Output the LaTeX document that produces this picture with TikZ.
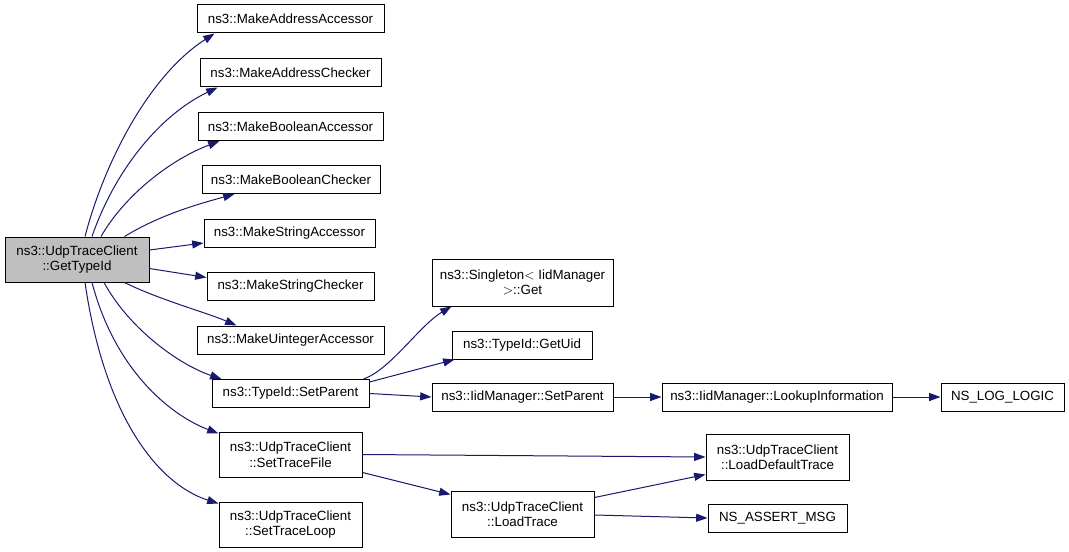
\documentclass[tikz,border=0pt]{standalone}
\usepackage{fontspec}
\setmainfont{Liberation Sans}
\usetikzlibrary{arrows.meta,calc}
\definecolor{edgec}{HTML}{191970}
\definecolor{mgray}{HTML}{BFBFBF}
\begin{document}
\begin{tikzpicture}[x=0.75pt,y=-0.75pt,
 box/.style={draw=black,line width=0.75pt,inner sep=0pt,align=center,font=\fontsize{10}{11.6}\selectfont,fill=white,minimum height=28*0.75pt},
 tall/.style={minimum height=45*0.75pt},
 e/.style={draw=edgec,line width=0.75pt,-{Triangle[length=8.5pt,width=6pt]}},
]
\useasboundingbox[fill=white] (0,0) rectangle (1069,552);
\node[box,tall,fill=mgray,minimum width=144*0.75pt] (main) at (77,259.5) {ns3::UdpTraceClient\\::GetTypeId};
\node[box,minimum width=187*0.75pt] (maa) at (290.5,19) {ns3::MakeAddressAccessor};
\node[box,minimum width=181*0.75pt] (mac) at (290.5,73) {ns3::MakeAddressChecker};
\node[box,minimum width=185*0.75pt] (mba) at (290.5,126.5) {ns3::MakeBooleanAccessor};
\node[box,minimum width=178*0.75pt] (mbc) at (291,179.5) {ns3::MakeBooleanChecker};
\node[box,minimum width=171*0.75pt] (msa) at (289.5,233) {ns3::MakeStringAccessor};
\node[box,minimum width=167*0.75pt] (msc) at (290.5,286.5) {ns3::MakeStringChecker};
\node[box,minimum width=187*0.75pt] (mua) at (290.5,340) {ns3::MakeUintegerAccessor};
\node[box,minimum width=157*0.75pt] (tsp) at (290.5,393.5) {ns3::TypeId::SetParent};
\node[box,tall,minimum width=143*0.75pt] (stf) at (290.5,454.5) {ns3::UdpTraceClient\\::SetTraceFile};
\node[box,tall,minimum width=143*0.75pt] (stl) at (290.5,524.5) {ns3::UdpTraceClient\\::SetTraceLoop};
\node[box,tall,minimum width=181*0.75pt,minimum height=47*0.75pt] (sget) at (522.5,282.5) {ns3::Singleton$<$ IidManager\\$>$::Get};
\node[box,minimum width=140*0.75pt] (guid) at (522,345) {ns3::TypeId::GetUid};
\node[box,minimum width=181*0.75pt] (isp) at (522.5,397) {ns3::IidManager::SetParent};
\node[box,minimum width=230*0.75pt] (lookup) at (777,397) {ns3::IidManager::LookupInformation};
\node[box,minimum width=123*0.75pt] (nslog) at (1002.5,397) {NS\_LOG\_LOGIC};
\node[box,tall,minimum width=143*0.75pt,minimum height=46*0.75pt] (ldt) at (777.5,457) {ns3::UdpTraceClient\\::LoadDefaultTrace};
\node[box,tall,minimum width=143*0.75pt,minimum height=46*0.75pt] (lt) at (522.5,514) {ns3::UdpTraceClient\\::LoadTrace};
\node[box,minimum width=139*0.75pt] (nsa) at (777.5,518) {NS\_ASSERT\_MSG};

\draw[e] ($(main.north)+(8,0)$) .. controls (105,160) and (150,75) .. ($(maa.south west)+(18,0)$);
\draw[e] ($(main.north)+(15,0)$) .. controls (115,170) and (160,115) .. ($(mac.south west)+(18,0)$);
\draw[e] ($(main.north)+(24,0)$) .. controls (125,195) and (170,160) .. ($(mba.south west)+(22,0)$);
\draw[e] ($(main.north east)+(-25,0)$) .. controls (160,215) and (195,205) .. ($(mbc.south west)+(33,0)$);
\draw[e] ($(main.east)+(0,-9.5)$) -- ($(msa.west)+(0,10)$);
\draw[e] ($(main.east)+(0,9)$) -- ($(msc.west)+(0,-9)$);
\draw[e] ($(main.south east)+(-25,0)$) .. controls (160,300) and (205,312) .. ($(mua.north west)+(40,0)$);
\draw[e] ($(main.south)+(27,0)$) .. controls (130,330) and (180,365) .. ($(tsp.north west)+(10,0)$);
\draw[e] ($(main.south)+(15,0)$) .. controls (115,370) and (170,415) .. ($(stf.north west)+(0,2)$);
\draw[e] ($(main.south)+(8,0)$) .. controls (105,420) and (160,485) .. ($(stl.north west)+(0,2)$);

\draw[e] ($(tsp.north east)+(-6,0)$) .. controls (390,370) and (420,325) .. ($(sget.south west)+(20,0)$);
\draw[e] ($(tsp.north east)+(0,3)$) -- ($(guid.south west)+(3,0)$);
\draw[e] (tsp.east) -- (isp.west);
\draw[e] (isp.east) -- (lookup.west);
\draw[e] (lookup.east) -- (nslog.west);
\draw[e] (stf.east) -- (ldt.west);
\draw[e] ($(stf.south east)+(0,-5)$) -- ($(lt.north west)+(0,4)$);
\draw[e] ($(lt.north east)+(0,7)$) -- ($(ldt.south west)+(0,-6)$);
\draw[e] ($(lt.east)+(0,1)$) -- (nsa.west);
\end{tikzpicture}
\end{document}
